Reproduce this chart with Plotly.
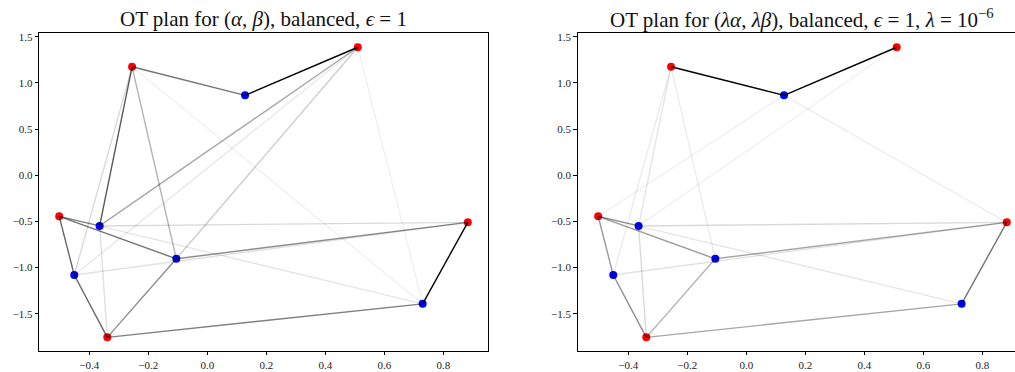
import plotly.graph_objects as go

# Source (red) and target (blue) point clouds
red_x = [-0.502, -0.255, 0.510, 0.883, -0.339]
red_y = [-0.445, 1.175, 1.387, -0.510, -1.756]
blue_x = [0.128, -0.365, -0.451, -0.105, 0.730]
blue_y = [0.866, -0.549, -1.081, -0.905, -1.393]

# Transport plans (rows: red points, cols: blue points), normalised to max = 1
plan_balanced = [
    [0.00, 0.45, 0.60, 0.55, 0.10],
    [0.55, 0.65, 0.15, 0.30, 0.06],
    [1.00, 0.35, 0.09, 0.20, 0.06],
    [0.00, 0.15, 0.12, 0.45, 1.00],
    [0.00, 0.12, 0.60, 0.45, 0.50],
]
plan_scaled = [
    [0.06, 0.40, 0.40, 0.40, 0.10],
    [1.00, 0.10, 0.08, 0.08, 0.00],
    [1.00, 0.06, 0.00, 0.00, 0.00],
    [0.07, 0.15, 0.12, 0.35, 0.55],
    [0.00, 0.15, 0.45, 0.30, 0.35],
]

titles = [
    "OT plan for (<i>α</i>, <i>β</i>), balanced, <i>ϵ</i> = 1",
    "OT plan for (<i>λα</i>, <i>λβ</i>), balanced, <i>ϵ</i> = 1, <i>λ</i> = 10<sup>−6</sup>",
]
x_ticks = [-0.4, -0.2, 0.0, 0.2, 0.4, 0.6, 0.8]
y_ticks = [-1.5, -1.0, -0.5, 0.0, 0.5, 1.0, 1.5]

W, H = 1015, 372
FONT = "Liberation Serif"

fig = go.Figure()

for k, plan in enumerate([plan_balanced, plan_scaled]):
    xa = "x" if k == 0 else "x2"
    ya = "y" if k == 0 else "y2"
    fig.add_trace(go.Scatter(x=red_x, y=red_y, mode="markers", xaxis=xa, yaxis=ya,
                             marker=dict(color="#ff0000", size=8, line=dict(width=0)),
                             showlegend=False, hoverinfo="skip", cliponaxis=False))
    fig.add_trace(go.Scatter(x=blue_x, y=blue_y, mode="markers", xaxis=xa, yaxis=ya,
                             marker=dict(color="#0000ff", size=8, line=dict(width=0)),
                             showlegend=False, hoverinfo="skip", cliponaxis=False))
    for i in range(len(red_x)):
        for j in range(len(blue_x)):
            a = plan[i][j]
            if a <= 0:
                continue
            fig.add_trace(go.Scatter(x=[red_x[i], blue_x[j]], y=[red_y[i], blue_y[j]],
                                     mode="lines", xaxis=xa, yaxis=ya,
                                     line=dict(color=f"rgba(0,0,0,{a})", width=1.4),
                                     showlegend=False, hoverinfo="skip"))

ydom = [1 - 350.7 / H, 1 - 31 / H]
axis_common = dict(showgrid=False, zeroline=False, showline=True, linecolor="black",
                   linewidth=1, ticks="outside", ticklen=3.5, tickwidth=0.8,
                   tickcolor="black", tickfont=dict(family=FONT, size=11, color="#222"),
                   tickformat=".1f")

fig.update_layout(
    width=W, height=H,
    margin=dict(l=0, r=0, t=0, b=0),
    paper_bgcolor="white", plot_bgcolor="white",
    xaxis=dict(domain=[39.3 / W, 488.3 / W], range=[-0.5695, 0.9525],
               tickvals=x_ticks, mirror=True, anchor="y", **axis_common),
    yaxis=dict(domain=ydom, range=[-1.902, 1.543], tickvals=y_ticks,
               mirror=True, anchor="x", **axis_common),
    xaxis2=dict(domain=[577.7 / W, 1.0], range=[-0.5715, 0.911], tickvals=x_ticks,
                mirror=True, anchor="y2", **axis_common),
    yaxis2=dict(domain=ydom, range=[-1.902, 1.543], tickvals=y_ticks,
                mirror=False, anchor="x2", **axis_common),
)

centers = [263.8 / W, 802 / W]
for c, t in zip(centers, titles):
    fig.add_annotation(text=t, x=c, y=1 - 17 / H, xref="paper", yref="paper",
                       xanchor="center", yanchor="middle", showarrow=False,
                       font=dict(family=FONT, size=21, color="#111"))

fig.write_html("out.html", config={"displayModeBar": False},
               post_script="document.body.style.margin='0';document.body.style.overflow='hidden';")
